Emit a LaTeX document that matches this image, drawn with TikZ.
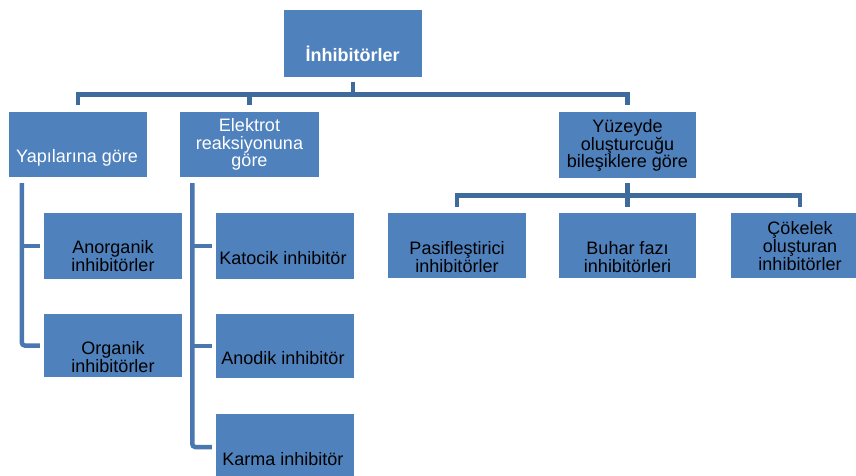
\documentclass[tikz,border=0pt]{standalone}
\usepackage{fontspec}
\setmainfont{Liberation Sans}
\definecolor{boxblue}{HTML}{4F81BD}
\definecolor{connblue}{HTML}{3F6A9C}
\definecolor{vblue}{HTML}{4A77AF}
\begin{document}
\begin{tikzpicture}[x=1pt,y=-1pt,
  box/.style={fill=boxblue, draw=none, inner sep=0pt, minimum width=138pt, minimum height=65pt},
  txt/.style={inner sep=0pt, text=black, font=\fontsize{18}{18}\selectfont, align=center},
  wtxt/.style={txt, text=white},
  conn/.style={draw=connblue, line width=4.5pt},
  vconn/.style={draw=vblue, line width=4.5pt}]
\useasboundingbox (0,0) rectangle (856,475);
\clip (0,0) rectangle (856,475);

% boxes
\node[box, minimum height=67pt] (top) at (353,43.5) {};
\node[box] (yap) at (78,144.5) {};
\node[box, minimum width=139pt] (elk) at (249.5,144.5) {};
\node[box, minimum width=137pt, minimum height=66pt] (yuz) at (627.5,145) {};
\node[box, minimum height=66pt] (anorg) at (113,246) {};
\node[box, minimum height=63pt] (org) at (113,345.5) {};
\node[box, minimum height=66pt] (kat) at (285,246) {};
\node[box, minimum height=64pt] (ano) at (285,346) {};
\node[box, minimum height=66pt] (kar) at (285,447) {};
\node[box] (pas) at (457,245.5) {};
\node[box, minimum width=137pt] (buh) at (627.5,245.5) {};
\node[box] (cok) at (800,245.5) {};

% texts
\node[wtxt, font=\fontsize{18}{18}\selectfont\bfseries, anchor=base] (t-top) at (352.5,61.7) {İnhibitörler};
\node[wtxt, anchor=base] (t-yap) at (77,162.3) {Yapılarına göre};
\node[wtxt, anchor=north] (t-elk) at (249.5,118) {Elektrot\\[-0.2pt]reaksiyonuna\\[-0.2pt]göre};
\node[txt, anchor=north] (t-yuz) at (627.5,119.5) {Yüzeyde\\[-0.5pt]oluşturcuğu\\[-0.5pt]bileşiklere göre};
\node[txt, anchor=north] (t-anorg) at (113,240) {Anorganik\\inhibitörler};
\node[txt, anchor=north] (t-org) at (113,341) {Organik\\inhibitörler};
\node[txt, anchor=base] (t-kat) at (283,264) {Katocik inhibitör};
\node[txt, anchor=base] (t-ano) at (283,364) {Anodik inhibitör};
\node[txt, anchor=base] (t-kar) at (283,465) {Karma inhibitör};
\node[txt, anchor=north] (t-pas) at (457,241) {Pasifleştirici\\inhibitörler};
\node[txt, anchor=north] (t-buh) at (627.5,241) {Buhar fazı\\inhibitörleri};
\node[txt, anchor=north] (t-cok) at (800,221) {Çökelek\\oluşturan\\inhibitörler};

% top level connectors
\coordinate (bus1) at (353,94.5);
\draw[conn, shorten <=5pt] (top.south) -- (bus1);
\draw[conn, shorten >=7pt] (bus1) -| (yap.north);
\draw[conn, shorten >=7pt] (bus1) -| (elk.north);
\draw[conn, shorten >=7pt] (bus1) -| (yuz.north);

% second level connectors
\coordinate (bus2) at (627.5,195.5);
\draw[conn, shorten <=5pt] (yuz.south) -- (bus2);
\draw[conn, shorten >=6pt] (bus2) -| (pas.north);
\draw[conn, shorten >=6pt] (bus2) -| (buh.north);
\draw[conn, shorten >=6pt] (bus2) -| (cok.north);

% left side vertical connectors
\coordinate (yapv) at ([xshift=13pt]yap.south west);
\draw[vconn, rounded corners=3pt, shorten <=6pt] (yapv) |- ([xshift=-4pt]org.west);
\draw[vconn] (yapv |- anorg.west) -- ([xshift=-4pt]anorg.west);

\coordinate (elkv) at ([xshift=12.5pt]elk.south west);
\draw[vconn, rounded corners=3pt, shorten <=6pt] (elkv) |- ([xshift=-4pt]kar.west);
\draw[vconn] (elkv |- kat.west) -- ([xshift=-4pt]kat.west);
\draw[vconn] (elkv |- ano.west) -- ([xshift=-4pt]ano.west);
\end{tikzpicture}
\end{document}
